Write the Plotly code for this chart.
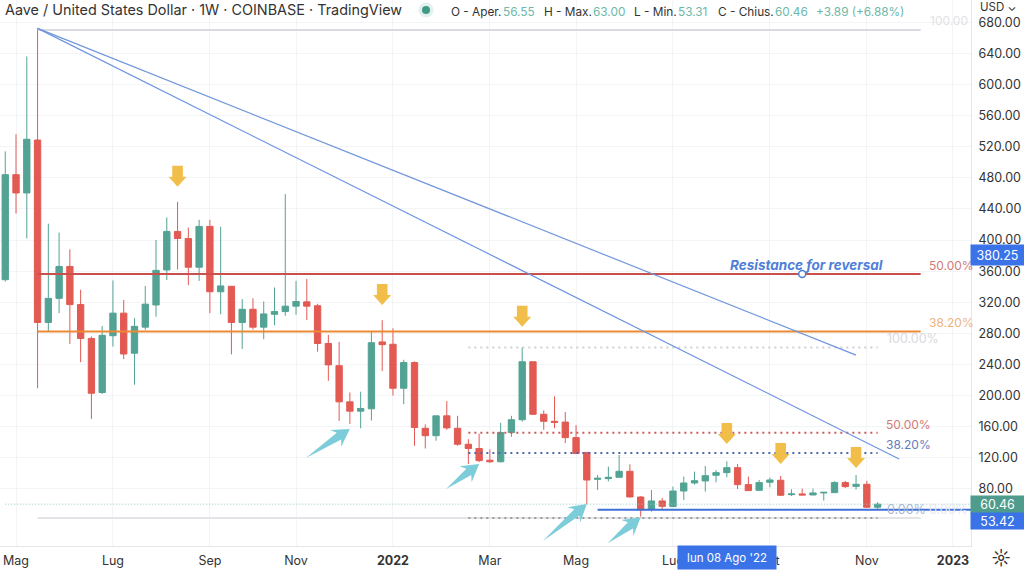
import math
import pandas as pd
import plotly.graph_objects as go

# ---------- data ----------
first_week = "2021-04-26"
opens = [349,484,460.5,528.5,294,325,366,317,273.5,204,277,306,254.5,288,316.5,361.5,411,402,365,417.5,333.5,340.5,294,311,288,304.5,308,315,320.5,315.5,267,238.5,192,180,183,269,266,209.5,242.5,158,148.5,174,158,137.5,132,117,115,152.5,169,243.5,176,167,166,146,127,92.4,93.3,95,102.7,69.7,53.9,64.6,57.3,77.4,87.7,90.3,97.6,101,107.4,85.6,78.3,88.6,91.2,72.7,73.6,72.3,74.9,75.3,88.2,83.4,86,56.55]
highs = [514,536,636,672,421,409.5,388,336,276,289.5,348,323,299.5,341,400,429,449,416,426,426,417,341,324,325,321,339,459,347.5,350,318,278,269,204,205,282,297,286.5,246,244,163,174,193,174,144,151,131,165,174,262,244,181,199,179,162,127.5,98,108.7,123.7,111.7,70.6,78.7,68.4,83,95.9,102.3,109.6,104.4,115.6,112.1,95.9,91.6,94.6,96.7,79.6,80.4,80.4,76.2,89.9,90.3,98,90.3,63]
lows = [346.5,434,402,209.5,282,306,266.5,243,170,202,263,247,214,284.5,301.5,348.5,362,342,347.5,306,304.5,253,260,285,272.5,290.5,302.5,304,297,256.5,219,167.5,163.5,158,168,231.5,200,189,135.5,132,142,156,135.5,112,114.5,113.5,114,147,166.5,175,156,158,139,125,60.7,78.7,89.8,94.6,69.3,44.5,50.9,53.9,56.9,65.9,85.6,76.6,88.6,95,80,77.4,77.9,82.2,71,71,71.9,71.9,65,74.9,81.3,79.2,56,53.31]
closes = [484,460.5,529.5,294,325,366,317,273.5,203,277.5,306,253.5,289,317.5,361,411,402,365,417.5,333.5,341,294,311,288,305,308,315,321,315,267,239.5,192,180,183.5,268,265.5,209.5,242.5,159,148.5,174,158.5,137.5,132,116.5,115,152.5,169,243.5,176,167,165.5,146,125.5,91.5,93.7,95,102.7,69.7,53,64.6,57.7,77.4,87.7,90.7,97.1,101,107.4,85.6,77.9,88.2,91.6,71.9,73.6,72.3,74.9,75.7,88.2,83,86,56.5,60.46]
weeks = pd.date_range(first_week, periods=len(opens), freq="7D")

tick_dates = ["2021-05-03","2021-07-05","2021-09-06","2021-11-01","2022-01-03","2022-03-07","2022-05-02","2022-07-04","2022-09-05","2022-11-07","2023-01-02"]
tick_labels = ["Mag","Lug","Sep","Nov","<b>2022</b>","Mar","Mag","Lug","Set","Nov","<b>2023</b>"]
price_ticks = list(range(80, 681, 40))

start_date = "2021-05-17"
end_solid = "2022-12-12"
end_dotted = "2022-11-14"
fib_top, fib_bottom = 670, 42.7
red_level, orange_level = 356.3, 282.4
dot_top, dot_mid, dot_low = 262, 152.4, 126.3
support = 53.42
last_close = 60.46
trend_a_x = ["2021-05-17", "2022-10-31"]; trend_a_y = [672, 252]
trend_b_x = ["2021-05-17", "2022-11-28"]; trend_b_y = [672, 118.6]
dot_start = "2022-02-21"
support_start = "2022-05-16"
circle_date = "2022-09-26"
down_arrow_dates = ["2021-08-16","2021-12-27","2022-03-28","2022-08-08","2022-09-12","2022-10-31"]
down_arrow_prices = [468.5,316.5,288.6,137.8,112.1,107]
cyan_dates = ["2021-12-06","2022-02-28","2022-05-09","2022-06-13"]
cyan_prices = [157.1,112.1,60.7,43.6]
cyan_tails = [(-44,29),(-33,25),(-44,37),(-33,26)]

# ---------- style ----------
GREEN, RED = "#53A394", "#E25A52"
W, H = 1024, 570
PW, PH = 971, 546
FONT = "Inter"
TXT = "#333333"

def px(x): return x / PW
def py(y): return 1 - y / PH

fig = go.Figure()

def seg(x, y, color, width=1, dash=None):
    fig.add_trace(go.Scatter(x=x, y=y, mode="lines", hoverinfo="skip",
                             line=dict(color=color, width=width, dash=dash)))

seg([start_date, end_solid], [fib_top]*2, "#DADAE2", 2)
seg([start_date, end_solid], [fib_bottom]*2, "#E4E4E8", 2)
seg([start_date, end_solid], [red_level]*2, "#C9504E", 2)
seg([start_date, end_solid], [orange_level]*2, "#EC8A34", 1.8)
seg([dot_start, end_dotted], [dot_top]*2, "#CFCFD4", 2, "2px,4px")
seg([dot_start, end_dotted], [dot_mid]*2, "#CF5A58", 2, "2px,4px")
seg([dot_start, end_dotted], [dot_low]*2, "#4F68B0", 2, "2px,4px")
seg([dot_start, end_dotted], [fib_bottom]*2, "#9A9A9E", 2, "2px,4px")
seg([weeks[0], "2023-01-14"], [last_close]*2, "#8CCABD", 1, "1px,2px")
seg([support_start, "2023-01-14"], [support]*2, "#3F6FD8", 2)

fig.add_trace(go.Candlestick(
    x=weeks, open=opens, high=highs, low=lows, close=closes,
    increasing=dict(line=dict(color=GREEN, width=1), fillcolor=GREEN),
    decreasing=dict(line=dict(color=RED, width=1), fillcolor=RED),
    whiskerwidth=0, hoverinfo="skip"))

seg(trend_a_x, trend_a_y, "#6F96DC", 1.2)
seg(trend_b_x, trend_b_y, "#6F96DC", 1.2)
fig.add_trace(go.Scatter(x=[circle_date], y=[red_level], mode="markers", hoverinfo="skip",
                         marker=dict(size=7, color="white", line=dict(color="#4F7FD8", width=1.5))))

shapes = []
ARROW = "M0,0 L-9,10 L-5.3,10 L-5.3,21 L5.3,21 L5.3,10 L9,10 Z"
for d, p in zip(down_arrow_dates, down_arrow_prices):
    shapes.append(dict(type="path", xref="x", yref="y", xsizemode="pixel", ysizemode="pixel",
                       xanchor=d, yanchor=p, path=ARROW, fillcolor="#F2BE4A", line=dict(width=0)))
for d, p, (tx, ty) in zip(cyan_dates, cyan_prices, cyan_tails):
    L = math.hypot(tx, ty)
    ux, uy = tx / L, ty / L
    vx, vy = -uy, ux
    pts = [(0, 0),
           (17*ux + 10*vx, 17*uy + 10*vy),
           (13*ux + 4*vx, 13*uy + 4*vy),
           (tx, ty),
           (13*ux - 4*vx, 13*uy - 4*vy),
           (17*ux - 10*vx, 17*uy - 10*vy)]
    path = "M" + " L".join(f"{a:.1f},{-b:.1f}" for a, b in pts) + " Z"
    shapes.append(dict(type="path", xref="x", yref="y", xsizemode="pixel", ysizemode="pixel",
                       xanchor=d, yanchor=p, path=path, fillcolor="#7CCCDA", line=dict(width=0)))
# legend status dot
shapes.append(dict(type="circle", xref="paper", yref="paper", x0=px(418.5), x1=px(433.5), y0=py(17.5), y1=py(2.5),
                   fillcolor="#E3F1EE", line=dict(width=0)))
shapes.append(dict(type="circle", xref="paper", yref="paper", x0=px(422), x1=px(430), y0=py(14), y1=py(6),
                   fillcolor="#3F9A86", line=dict(width=0)))

ann = []
def text(x, y, s, color=TXT, size=13, anchor="left", **kw):
    ann.append(dict(xref="paper", yref="paper", x=px(x), y=py(y), text=s, showarrow=False,
                    xanchor=anchor, yanchor="middle", font=dict(family=FONT, size=size, color=color),
                    borderpad=0, borderwidth=0, **kw))

text(5, 10, "Aave / United States Dollar · 1W · COINBASE · TradingView", TXT, 14.4)
VAL = "#6DB8A9"
HS = 11.8
text(451, 12, "O - Aper.", TXT, HS); text(503, 12, "56.55", VAL, HS)
text(544, 12, "H - Max.", TXT, HS); text(593, 12, "63.00", VAL, HS)
text(634, 12, "L - Min.", TXT, HS); text(678, 12, "53.31", VAL, HS)
text(718, 12, "C - Chius.", TXT, HS); text(775, 12, "60.46", VAL, HS)
text(816, 12, "+3.89 (+6.88%)", VAL, HS)
text(980, 7, "USD ⌄", TXT, 11.5)
text(930, 21, "100.00", "#E2E2E6", 12)

text(730, 265, "<b><i>Resistance for reversal</i></b>", "#4F7FD8", 13.5)
text(929, 265, "50.00%", "#D27A76", 12)
text(929, 322, "38.20%", "#EFB27C", 12)
text(887, 338, "100.00%", "#D9D9DE", 12.5)
text(886, 424, "50.00%", "#D27A76", 12)
text(886, 444, "38.20%", "#5F7CBC", 12)
text(887, 509, "0.00%", "#A9B6D3", 12.5)
text(929, 509, "0.00%", "#E6E9F1", 12.5)

def box(x0, x1, y0, y1, s, color, size=13):
    ann.append(dict(xref="paper", yref="paper", x=px((x0+x1)/2), y=py((y0+y1)/2), text=s, showarrow=False,
                    xanchor="center", yanchor="middle", width=x1-x0, height=y1-y0, bgcolor=color,
                    borderpad=0, font=dict(family=FONT, size=size, color="white"), align="center", valign="middle"))
box(971, 1024, 245, 265, "380.25", "#3A72E8", 12.5)
box(971, 1024, 496, 513, "60.46", "#4F9C8C", 12.5)
box(971, 1024, 513, 529, "53.42", "#3A72E8", 12.5)
box(678, 776, 546, 569, "lun 08 Ago '22", "#3A72E8", 11.5)
text(1001, 558, "☼", "#333333", 19, anchor="center")
fig.update_layout(annotations=ann, shapes=shapes)

fig.update_layout(
    width=W, height=H, autosize=False, showlegend=False,
    margin=dict(l=0, r=W-PW, t=0, b=H-PH, pad=0),
    paper_bgcolor="white", plot_bgcolor="white", boxgap=0.16,
    font=dict(family=FONT, size=13, color=TXT),
    xaxis=dict(type="date", range=["2021-04-22 14:00", "2023-01-13 17:00"], rangeslider=dict(visible=False),
               tickmode="array", tickvals=tick_dates, ticktext=tick_labels, ticks="", ticklabelstandoff=3,
               showgrid=True, gridcolor="#F3F4F7", gridwidth=1,
               showline=True, linecolor="#E6E6E9", linewidth=1, zeroline=False,
               tickfont=dict(size=12.5, color=TXT)),
    yaxis=dict(side="right", range=[6.7, 708.5], tickmode="array", tickvals=price_ticks,
               ticktext=[f"{v:.2f}" for v in price_ticks], ticks="", ticklabelstandoff=4,
               showgrid=True, gridcolor="#F3F4F7", gridwidth=1,
               showline=True, linecolor="#E6E6E9", linewidth=1, zeroline=False,
               tickfont=dict(size=12.5, color=TXT)),
)
fig.write_html("out.html", config=dict(displayModeBar=False),
               post_script="document.body.style.margin='0';document.documentElement.style.overflow='hidden';")
